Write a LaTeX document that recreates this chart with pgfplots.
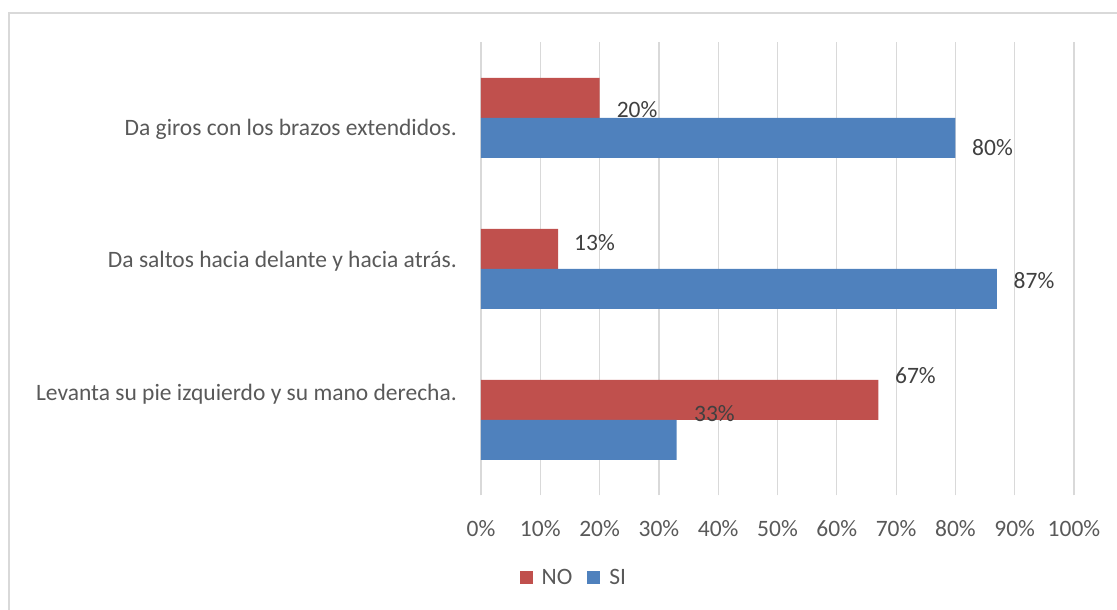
\documentclass[border=0pt]{standalone}
\usepackage{pgfplots}
\pgfplotsset{compat=1.18}
\usepackage{fontspec}
\setmainfont{Carlito}
\definecolor{nored}{HTML}{C0504D}
\definecolor{siblue}{HTML}{4F81BD}
\definecolor{gridc}{HTML}{D9D9D9}
\definecolor{txt}{HTML}{595959}
\definecolor{lbl}{HTML}{404040}
\newcommand\cf{\fontsize{23.5}{28}\selectfont}
\begin{document}
\begin{tikzpicture}
\useasboundingbox (0,0) rectangle (1117pt,610pt);
\begin{scope}
\clip (0,0) rectangle (1117pt,610pt);
\draw[gridc, line width=1.5pt] (9pt,-20pt) -- (9pt,597pt) -- (1140pt,597pt);
\end{scope}
\begin{axis}[
  at={(481pt,114.5pt)}, anchor=south west,
  scale only axis, width=593pt, height=453pt,
  xmin=0, xmax=100, ymin=-0.5, ymax=2.5,
  /pgf/number format/assume math mode=true,
  bar width=40pt,
  axis line style={draw=none},
  major tick length=0pt,
  xtick={0,10,...,100},
  xticklabel={\pgfmathprintnumber{\tick}\%},
  xticklabel style={anchor=base, yshift=-41pt, font=\cf, text=txt},
  xmajorgrids, grid style={gridc, line width=1.2pt},
  ytick={0.126,1.013,1.881},
  yticklabels={Levanta su pie izquierdo y su mano derecha., Da saltos hacia delante y hacia atrás., Da giros con los brazos extendidos.},
  yticklabel style={anchor=base east, inner sep=0pt, xshift=-24pt, font=\cf, text=txt},
  legend style={at={(axis description cs:0.155,-0.182)}, anchor=center, draw=none, fill=none,
    legend columns=-1, font=\cf, text=txt, inner sep=0pt, nodes={inner sep=0pt},
    /tikz/every odd column/.append style={column sep=9pt},
    /tikz/every even column/.append style={column sep=15pt}},
  legend image code/.code={\draw[#1,draw=none] (0pt,-6.5pt) rectangle (13pt,6.5pt);},
]
\addplot[xbar, bar shift=20pt, fill=nored, draw=none] coordinates {(67,0) (13,1) (20,2)};
\addlegendentry{NO}
\addplot[xbar, bar shift=-20pt, fill=siblue, draw=none] coordinates {(33,0) (87,1) (80,2)};
\addlegendentry{SI}
\addplot[forget plot, only marks, mark=none,
  point meta=explicit, nodes near coords={\pgfmathprintnumber{\pgfplotspointmeta}\%},
  nodes near coords style={anchor=west, inner sep=0pt, font=\cf, text=lbl}]
  table[meta=v] {
x y v
22.87 2.053 20
82.8 1.801 80
15.68 1.172 13
89.8 0.921 87
69.8 0.291 67
35.9 0.040 33
};
\end{axis}
\end{tikzpicture}
\end{document}
